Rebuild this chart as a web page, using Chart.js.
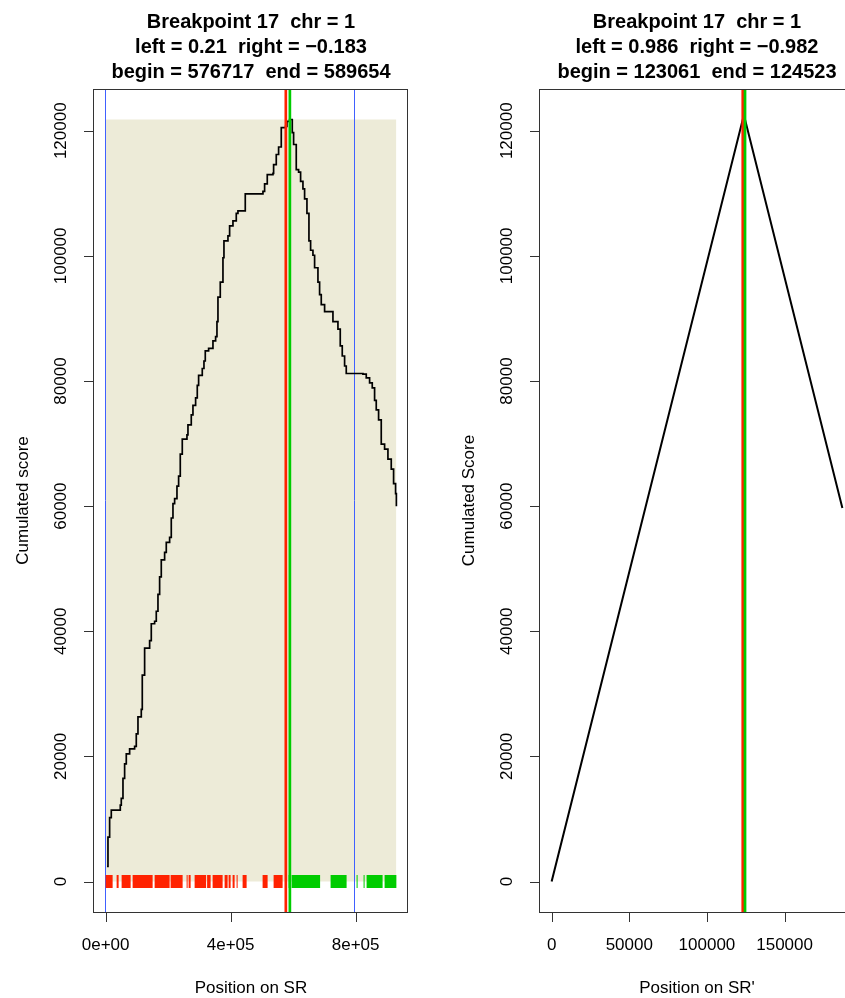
<!DOCTYPE html>
<html>
<head>
<meta charset="utf-8">
<script src="https://cdn.jsdelivr.net/npm/chart.js@4.4.1/dist/chart.umd.min.js"></script>
<style>
  html, body { margin: 0; padding: 0; background: #fff; overflow: hidden; }
  #wrap { position: relative; width: 845px; height: 998px; overflow: hidden; }
  canvas { position: absolute; top: 0; }
  #left { left: 0; }
  #right { left: 430px; }
</style>
</head>
<body>
<div id="wrap">
  <canvas id="left" width="422" height="998"></canvas>
  <canvas id="right" width="440" height="998"></canvas>
</div>
<script>
// ---- breakpoint 17, chromosome 1 ----
const leftTitle = ["Breakpoint 17  chr = 1", "left = 0.21  right = \u22120.183", "begin = 576717  end = 589654"];
const rightTitle = ["Breakpoint 17  chr = 1", "left = 0.986  right = \u22120.982", "begin = 123061  end = 124523"];

// cumulated score along SR (step curve)
const srPositions = [
  4300, 7500, 12800, 18100, 46900, 50100, 55500, 60800, 66100, 76800,
  92800, 98100, 103500, 114100, 117300, 124800, 140800, 146100, 156800, 162100,
  167500, 172800, 178100, 188800, 194100, 204800, 210100, 215500, 220800, 228300,
  233600, 238900, 245300, 260300, 263500, 274100, 279500, 288000, 293300, 297600,
  309300, 314700, 318900, 329600, 343500, 352000, 356300, 359500, 366900, 375500,
  378700, 391500, 396800, 407500, 418100, 423500, 441600, 446900, 503500, 508800,
  517300, 535500, 537600, 546100, 553600, 562100, 576000, 580300, 588800,
  597300, 601600, 610100, 617600, 624000, 631500, 636800, 644300, 650700, 656000,
  663500, 668800, 679500, 684800, 690100, 700800, 716800, 727500, 743500, 750900,
  757300, 764800, 770100, 823500, 834100, 844800, 853300, 860800, 866100, 873600,
  882100, 892800, 903500, 914100, 921600, 928000, 930500
];
const srScores = [
  2400, 7100, 10200, 11400, 12200, 13300, 16500, 18800, 20400, 21200,
  21600, 23600, 26300, 27500, 33000, 37300, 38500, 41200, 41600, 43200,
  45900, 48700, 51400, 52600, 54200, 55000, 58100, 60400, 61200, 63200,
  64800, 68300, 70700, 71400, 73000, 74600, 76100, 77300, 79300, 80900,
  82000, 83200, 84800, 85200, 86400, 87100, 89500, 93400, 95800, 99700,
  102400, 103200, 104800, 105600, 106800, 107200, 107200, 109900, 110300, 111500,
  113000, 113200, 114600, 116200, 117400, 120500, 120700, 121500, 121800,
  119700, 117800, 113800, 113400, 111900, 110700, 109100, 106800, 102400, 100900,
  100100, 98100, 95800, 93800, 92200, 91100, 91100, 89500, 88300, 85600,
  84000, 82400, 81200, 81100, 80500, 79700, 78900, 76900, 75400, 73800,
  69900, 69100, 67500, 65900, 63600, 62000, 60000
];

// marks on the SR axis, as [start, end] position intervals
const leftMarks = [
  [0, 22400], [35200, 41600], [51200, 80000], [86400, 150400], [156800, 204800],
  [208000, 246400], [259200, 262400], [265600, 272000], [284800, 321600], [324800, 336000],
  [342400, 374400], [380800, 390400], [393600, 400000], [406400, 412800], [419200, 422400],
  [438400, 451200], [502400, 518400], [537600, 566400]
];
const rightMarks = [
  [585600, 592000], [595200, 686400], [720000, 771200], [803200, 806400],
  [825600, 828800], [835200, 886400], [892800, 930500]
];

// analysed region and its limits
const regionEnd = 930500;
const regionTop = 121800;
const regionLimits = [0, 795000];

// breakpoint bounds on each axis
const srBegin = 576717, srEnd = 589654;
const srPrimeBegin = 123061, srPrimeEnd = 124523;

// cumulated score along SR'
const srPrimePositions = [0, 123061, 124523, 187200];
const srPrimeScores = [0, 121800, 121800, 59700];

// axes
const yTicks = [0, 20000, 40000, 60000, 80000, 100000, 120000];
const yTickLabels = ["0", "20000", "40000", "60000", "80000", "100000", "120000"];
const srTicks = [0, 400000, 800000];
const srTickLabels = ["0e+00", "4e+05", "8e+05"];
const srPrimeTicks = [0, 50000, 100000, 150000];
const srPrimeTickLabels = ["0", "50000", "100000", "150000"];

// ---- drawing ----
const FONT = '"Liberation Sans", Arial, Helvetica, sans-serif';
const TITLE_FONT = 'bold 20px ' + FONT;
const AXIS_FONT = '17px ' + FONT;
const INK = '#333';
const TICK = 10;
const RED = '#ff2200';
const GREEN = '#00cc00';
const BLUE = '#4060ff';
const BEIGE = 'rgb(237,235,216)';

function padded(lo, hi) {
  const p = 0.04 * (hi - lo);
  return { min: lo - p, max: hi + p };
}

function xy(xs, ys) { return xs.map((x, i) => ({ x: x, y: ys[i] })); }

function rug(intervals) {
  const pts = [];
  intervals.forEach(([a, b], i) => {
    if (i > 0) pts.push({ x: (intervals[i - 1][1] + a) / 2, y: null });
    pts.push({ x: a, y: 0 }, { x: b, y: 0 });
  });
  return pts;
}

function vline(chart, value, color, width) {
  const ctx = chart.ctx, a = chart.chartArea;
  let x = chart.scales.x.getPixelForValue(value);
  if (width <= 1.5) x = Math.round(x - 0.5) + 0.5; // keep thin rules crisp
  ctx.save();
  ctx.strokeStyle = color;
  ctx.lineWidth = width;
  ctx.beginPath();
  ctx.moveTo(x, a.top);
  ctx.lineTo(x, a.bottom);
  ctx.stroke();
  ctx.restore();
}

function frame(cfg) {
  return {
    id: 'frame',
    // region limits go right above the shaded region, below the curve
    afterDatasetDraw(chart, args) {
      if (args.index === cfg.regionIndex) {
        (cfg.under || []).forEach(l => vline(chart, l.value, l.color, l.width));
      }
    },
    afterDatasetsDraw(chart) {
      (cfg.over || []).forEach(l => vline(chart, l.value, l.color, l.width));
    },
    afterDraw(chart) {
      const ctx = chart.ctx, a = chart.chartArea;
      const xs = chart.scales.x, ys = chart.scales.y;
      ctx.save();
      ctx.strokeStyle = INK;
      ctx.lineWidth = 1;
      ctx.strokeRect(Math.round(a.left) - 0.5, Math.round(a.top) + 0.5,
                     Math.round(a.right - a.left), Math.round(a.bottom - a.top));
      ctx.beginPath();
      cfg.xTicks.forEach(v => {
        const x = Math.round(xs.getPixelForValue(v)) + 0.5;
        ctx.moveTo(x, a.bottom);
        ctx.lineTo(x, a.bottom + TICK);
      });
      yTicks.forEach(v => {
        const y = Math.round(ys.getPixelForValue(v)) + 0.5;
        ctx.moveTo(a.left, y);
        ctx.lineTo(a.left - TICK, y);
      });
      ctx.stroke();

      ctx.fillStyle = '#000';
      ctx.font = AXIS_FONT;
      ctx.textAlign = 'center';
      ctx.textBaseline = 'alphabetic';
      cfg.xTicks.forEach((v, i) => ctx.fillText(cfg.xLabels[i], xs.getPixelForValue(v), 950));
      ctx.fillText(cfg.xTitle, (a.left + a.right) / 2, 993);

      yTicks.forEach((v, i) => {
        ctx.save();
        ctx.translate(a.left - 28, ys.getPixelForValue(v));
        ctx.rotate(-Math.PI / 2);
        ctx.fillText(yTickLabels[i], 0, 0);
        ctx.restore();
      });
      ctx.save();
      ctx.translate(a.left - 66, (a.top + a.bottom) / 2);
      ctx.rotate(-Math.PI / 2);
      ctx.fillText(cfg.yTitle, 0, 0);
      ctx.restore();

      ctx.font = TITLE_FONT;
      cfg.title.forEach((t, i) => ctx.fillText(t, (a.left + a.right) / 2, 28 + 25 * i));
      ctx.restore();
    }
  };
}

function baseOptions(xr, padding) {
  const yr = padded(0, regionTop);
  return {
    responsive: false,
    animation: false,
    devicePixelRatio: 1,
    layout: { padding: padding },
    plugins: { legend: { display: false }, tooltip: { enabled: false } },
    elements: { point: { radius: 0 } },
    scales: {
      x: { type: 'linear', display: false, min: xr.min, max: xr.max },
      y: { type: 'linear', display: false, min: yr.min, max: yr.max }
    }
  };
}

// SR panel
new Chart(document.getElementById('left'), {
  type: 'line',
  data: {
    datasets: [
      { data: xy(srPositions, srScores), borderColor: '#000', borderWidth: 1.7,
        stepped: true, fill: false, pointRadius: 0, order: 1 },
      { data: rug(leftMarks), borderColor: RED, borderWidth: 13, borderCapStyle: 'butt',
        fill: false, spanGaps: false, pointRadius: 0, order: 2 },
      { data: rug(rightMarks), borderColor: GREEN, borderWidth: 13, borderCapStyle: 'butt',
        fill: false, spanGaps: false, pointRadius: 0, order: 2 },
      { data: [{ x: 0, y: regionTop }, { x: regionEnd, y: regionTop }],
        borderColor: 'rgba(0,0,0,0)', borderWidth: 0, backgroundColor: BEIGE,
        fill: 'origin', pointRadius: 0, order: 3 }
    ]
  },
  options: baseOptions(padded(0, regionEnd), { left: 94, top: 89, right: 14, bottom: 86 }),
  plugins: [frame({
    title: leftTitle,
    xTicks: srTicks, xLabels: srTickLabels,
    xTitle: 'Position on SR', yTitle: 'Cumulated score',
    regionIndex: 3,
    under: regionLimits.map(v => ({ value: v, color: BLUE, width: 1 })),
    over: [{ value: srBegin, color: RED, width: 2.7 }, { value: srEnd, color: GREEN, width: 2.7 }]
  })]
});

// SR' panel
new Chart(document.getElementById('right'), {
  type: 'line',
  data: {
    datasets: [
      { data: xy(srPrimePositions, srPrimeScores), borderColor: '#000', borderWidth: 2,
        fill: false, pointRadius: 0, tension: 0 }
    ]
  },
  options: baseOptions(padded(0, srPrimePositions[srPrimePositions.length - 1]),
                       { left: 110, top: 89, right: 16, bottom: 86 }),
  plugins: [frame({
    title: rightTitle,
    xTicks: srPrimeTicks, xLabels: srPrimeTickLabels,
    xTitle: "Position on SR'", yTitle: 'Cumulated Score',
    regionIndex: -1,
    over: [{ value: srPrimeBegin, color: RED, width: 2.7 }, { value: srPrimeEnd, color: GREEN, width: 2.7 }]
  })]
});
</script>
</body>
</html>
